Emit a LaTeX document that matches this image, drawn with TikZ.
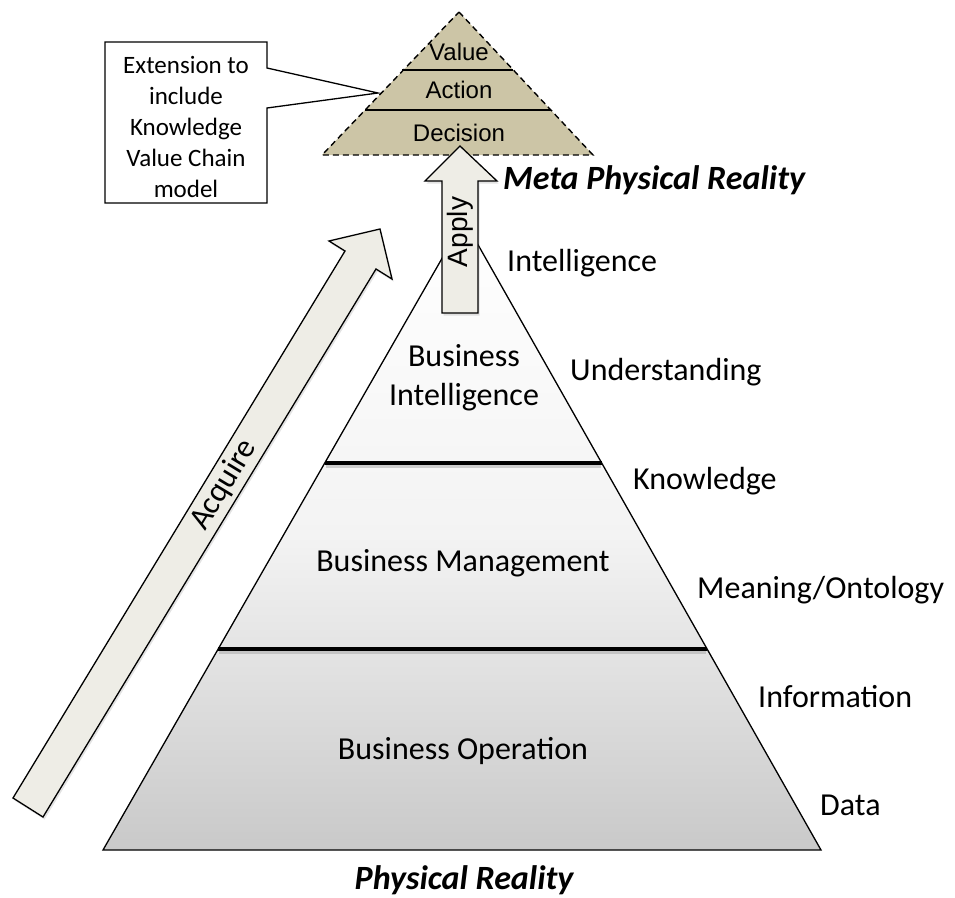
\documentclass[tikz,border=0pt]{standalone}
\usepackage{fontspec}
\setmainfont{Carlito}
\newfontfamily\arialf{Liberation Sans}
\usetikzlibrary{calc,shadows}
\definecolor{arrowfill}{HTML}{EEEDE6}
\definecolor{tanfill}{HTML}{CCC5A6}
\definecolor{pyrbot}{HTML}{C9C9C9}
\begin{document}
\begin{tikzpicture}[x=1pt,y=-1pt,
  outline/.style={draw=black,line width=1.3pt,line join=miter},
  shad/.style={drop shadow={opacity=0.22,shadow xshift=1.5pt,shadow yshift=-2.5pt}},
  divider/.style={draw=black,line width=3.2pt},
  thindiv/.style={draw=black,line width=1.5pt},
  lbl/.style={font=\fontsize{32}{39}\selectfont,inner sep=0pt},
  sidelbl/.style={font=\fontsize{32}{39}\selectfont,inner sep=0pt,anchor=base west},
  bigit/.style={font=\fontsize{34}{40}\selectfont\bfseries\itshape,inner sep=0pt},
  toplbl/.style={font=\arialf\fontsize{24}{28}\selectfont,inner sep=0pt},
  calltxt/.style={font=\fontsize{25}{31}\selectfont,align=center,inner sep=0pt}]
\useasboundingbox (0,0) rectangle (955,897);

% ---- main pyramid ----
\coordinate (apex) at (464,220);
\coordinate (bl) at (103,850);
\coordinate (br) at (821,850);
\coordinate (d1l) at (325,463);
\coordinate (d1r) at (602,463);
\coordinate (d2l) at (218,649);
\coordinate (d2r) at (707,649);
\path[top color=white,bottom color=pyrbot,middle color=white!78!pyrbot] (apex) -- (br) -- (bl) -- cycle;
\draw[outline] (apex) -- (br) -- (bl) -- cycle;
\draw[black!35,line width=3pt,opacity=0.5] ($(d1l)+(1,3)$) -- ($(d1r)+(-1,3)$);
\draw[black!35,line width=3pt,opacity=0.5] ($(d2l)+(1,3)$) -- ($(d2r)+(-1,3)$);
\draw[divider] (d1l) -- (d1r);
\draw[divider] (d2l) -- (d2r);

\node[lbl,align=center] (bi) at (464,378) {Business\\Intelligence};
\node[lbl] (bm) at (463,563) {Business Management};
\node[lbl] (bo) at (463,751) {Business Operation};

% ---- side labels ----
\node[sidelbl] (l1) at (507,271) {Intelligence};
\node[sidelbl] (l2) at (570,380) {Understanding};
\node[sidelbl] (l3) at (633,489) {Knowledge};
\node[sidelbl] (l4) at (697,598) {Meaning/Ontology};
\node[sidelbl] (l5) at (758,707) {Information};
\node[sidelbl] (l6) at (820,815) {Data};

\node[bigit] (meta) at (654,180) {Meta Physical Reality};
\node[bigit] (phys) at (464,880) {Physical Reality};

% ---- top triangle ----
\coordinate (tapex) at (459,12);
\coordinate (tbl) at (322,155);
\coordinate (tbr) at (593,155);
\fill[tanfill] (tapex) -- (tbr) -- (tbl) -- cycle;
\draw[thindiv] (402,70) -- (513,70);
\draw[thindiv] (365,110) -- (551,110);
\draw[black,line width=1.4pt,dash pattern=on 6pt off 4pt] (tapex) -- (tbr) -- (tbl) -- cycle;
\node[toplbl] (val) at (459,52) {Value};
\node[toplbl] (act) at (459,90) {Action};
\node[toplbl] (dec) at (459,133) {Decision};

% ---- callout ----
\coordinate (ctip) at (378,93);
\draw[outline,fill=white] (105,42) -- (267,42) -- (267,68) -- (ctip) -- (267,108) -- (267,203) -- (105,203) -- cycle;
\node[calltxt] (ctext) at (186,127) {Extension to\\include\\Knowledge\\Value Chain\\model};

% ---- Apply arrow ----
\draw[outline,fill=arrowfill,shad] (442,313) -- (442,181) -- (425,181) -- (460,146) -- (497,181) -- (478,181) -- (478,313) -- cycle;
\node[toplbl,font=\arialf\fontsize{28}{32}\selectfont,rotate=90] (apply) at (460,232) {Apply};

% ---- Acquire arrow ----
\draw[outline,fill=arrowfill,shad] (13,798) -- (345,251) -- (329,241) -- (380,229) -- (392,279) -- (376,269) -- (43,817) -- cycle;
\node[lbl,font=\fontsize{32}{38}\selectfont,rotate=58.7] (acq) at (224,485) {Acquire};
\end{tikzpicture}
\end{document}
